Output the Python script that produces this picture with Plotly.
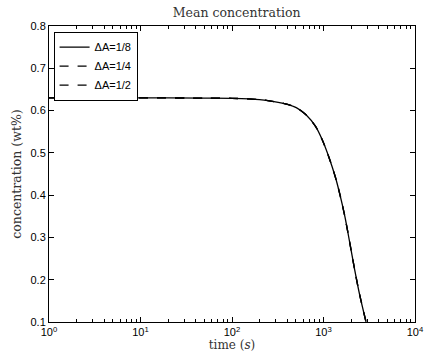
import plotly.graph_objects as go

time_s = [1, 10, 50, 100, 200, 364, 504, 644, 822, 968, 1141, 1342, 1517, 1714, 1938, 2190, 2475, 2917]
conc_dA_1_8 = [0.630, 0.630, 0.6295, 0.629, 0.626, 0.617, 0.607, 0.590, 0.562, 0.531, 0.491, 0.444, 0.400, 0.349, 0.287, 0.224, 0.166, 0.100]
conc_dA_1_4 = list(conc_dA_1_8)
conc_dA_1_2 = list(conc_dA_1_8)
series_names = ["ΔA=1/8", "ΔA=1/4", "ΔA=1/2"]
x_tickvals = [1, 10, 100, 1000, 10000]
x_ticktext = ["10<sup>0</sup>", "10<sup>1</sup>", "10<sup>2</sup>", "10<sup>3</sup>", "10<sup>4</sup>"]
y_tickvals = [0.1, 0.2, 0.3, 0.4, 0.5, 0.6, 0.7, 0.8]
y_ticktext = ["0.1", "0.2", "0.3", "0.4", "0.5", "0.6", "0.7", "0.8"]

serif = "DejaVu Serif, Liberation Serif"

fig = go.Figure()
for name, vals, dash in zip(series_names, [conc_dA_1_8, conc_dA_1_4, conc_dA_1_2], ["solid", "dash", "dash"]):
    fig.add_trace(go.Scatter(x=time_s, y=vals, mode="lines", name=name,
                             line=dict(color="black", width=1.3, dash=dash, shape="spline", smoothing=0.8)))

axis_common = dict(showline=True, linecolor="black", linewidth=1, mirror="ticks",
                   ticks="inside", ticklen=5, tickcolor="black", showgrid=False, zeroline=False,
                   tickfont=dict(family="Liberation Sans, Arial", size=11, color="black"))

fig.update_xaxes(type="log", range=[0, 4], tickvals=x_tickvals, ticktext=x_ticktext,
                 minor=dict(ticks="inside", ticklen=3, tickcolor="black", showgrid=False, dtick="D1"),
                 title=dict(text="time (<i>s</i>)", standoff=1,
                            font=dict(family=serif, size=12, color="#333")),
                 **axis_common)
fig.update_yaxes(range=[0.1, 0.8], tickvals=y_tickvals, ticktext=y_ticktext,
                 title=dict(text="concentration (wt%)", standoff=6,
                            font=dict(family=serif, size=12.5, color="#333")),
                 **axis_common)

fig.update_layout(
    width=435, height=360,
    margin=dict(l=49, r=11, t=26, b=38),
    paper_bgcolor="white", plot_bgcolor="white",
    title=dict(text="Mean concentration", x=0.544, xanchor="center", y=0.965, yanchor="middle",
               font=dict(family=serif, size=12.5, color="#333")),
    legend=dict(x=0.0125, y=0.981, xanchor="left", yanchor="top",
                bordercolor="black", borderwidth=1, bgcolor="white",
                font=dict(family="Liberation Sans, Arial", size=11, color="black"),
                tracegroupgap=0, itemwidth=30),
    showlegend=True,
)

fig.write_html("out.html")
